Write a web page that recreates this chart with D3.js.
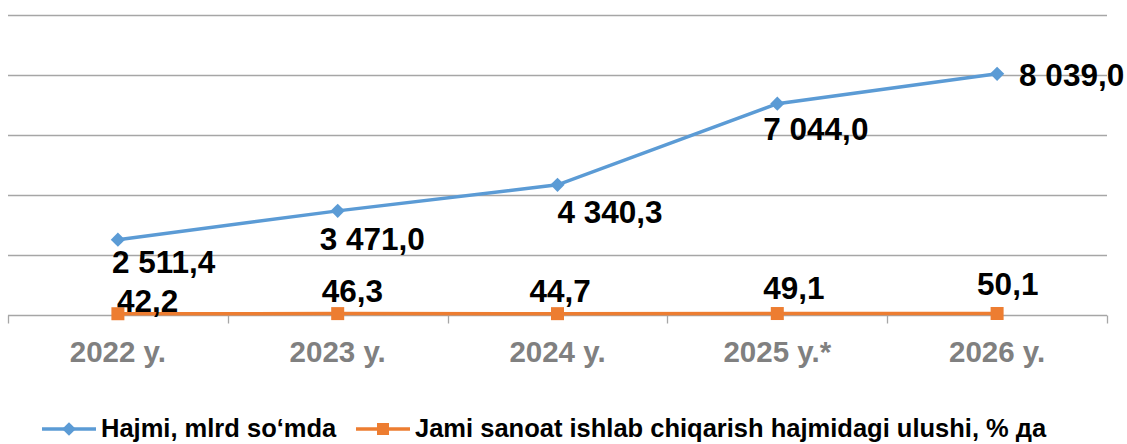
<!DOCTYPE html>
<html>
<head>
<meta charset="utf-8">
<script src="https://cdnjs.cloudflare.com/ajax/libs/d3/7.8.5/d3.min.js"></script>
<style>
  body { margin: 0; background: #fff; }
  svg text { font-family: Arial, "Liberation Sans", sans-serif; font-weight: bold; }
</style>
</head>
<body>
<div id="chart"></div>
<script>
var years = ["2022 y.", "2023 y.", "2024 y.", "2025 y.*", "2026 y."];
var hajmi = [2511.4, 3471.0, 4340.3, 7044.0, 8039.0];
var ulushi = [42.2, 46.3, 44.7, 49.1, 50.1];
var seriesNames = ["Hajmi, mlrd so\u2018mda", "Jami sanoat ishlab chiqarish hajmidagi ulushi, % \u0434\u0430"];
var yTicks = [2000, 4000, 6000, 8000, 10000];

// label placement (offset from point, text left edge / baseline)
var hajmiLabelOff = [[-6, 33], [-18, 39], [0, 38], [-14, 36], [22, 12]];
var ulushiLabelOff = [[-1, -2], [-16, -12], [-28, -12], [-14, -15], [-20, -18]];

var width = 1127, height = 444;
var fmt = function(v) {
  var s = v.toFixed(1).replace(".", ",");
  var parts = s.split(",");
  parts[0] = parts[0].replace(/\B(?=(\d{3})+(?!\d))/g, " ");
  return parts.join(",");
};

var svg = d3.select("#chart").append("svg")
  .attr("width", width)
  .attr("height", height);

var x = d3.scaleBand().domain(years).range([8, 1107]);
var y = d3.scaleLinear().domain([0, 10000]).range([315, 15]);
var cx = function(i) { return x(years[i]) + x.bandwidth() / 2; };

// gridlines
svg.append("g").selectAll("line")
  .data(yTicks)
  .enter().append("line")
  .attr("x1", 8).attr("x2", 1107)
  .attr("y1", function(d) { return Math.round(y(d)) + 0.5; })
  .attr("y2", function(d) { return Math.round(y(d)) + 0.5; })
  .attr("stroke", "#a6a6a6")
  .attr("stroke-width", 1.3);

// x axis
var xAxis = d3.axisBottom(x).tickSize(0).tickFormat("");
var gx = svg.append("g").attr("transform", "translate(0," + (Math.round(y(0)) + 0.5) + ")").call(xAxis);
gx.select(".domain").remove();
gx.append("line").attr("x1", 8).attr("x2", 1107).attr("stroke", "#a6a6a6").attr("stroke-width", 1.3);
gx.selectAll(".bnd")
  .data(d3.range(years.length + 1))
  .enter().append("line")
  .attr("x1", function(i) { return Math.round(8 + i * x.bandwidth()) + 0.5; })
  .attr("x2", function(i) { return Math.round(8 + i * x.bandwidth()) + 0.5; })
  .attr("y1", 0).attr("y2", 8)
  .attr("stroke", "#a6a6a6").attr("stroke-width", 1.3);

svg.append("g").selectAll("text")
  .data(years)
  .enter().append("text")
  .attr("x", function(d) { return x(d) + x.bandwidth() / 2; })
  .attr("y", 362)
  .attr("text-anchor", "middle")
  .attr("fill", "#808080")
  .style("font-size", "29.5px")
  .text(function(d) { return d; });

var line = d3.line()
  .x(function(d, i) { return cx(i); })
  .y(function(d) { return y(d); });

// orange series
svg.append("path").datum(ulushi)
  .attr("d", line)
  .attr("fill", "none")
  .attr("stroke", "#ED7D31")
  .attr("stroke-width", 3.5);
svg.append("g").selectAll("rect")
  .data(ulushi)
  .enter().append("rect")
  .attr("x", function(d, i) { return cx(i) - 6.5; })
  .attr("y", function(d) { return y(d) - 6.5; })
  .attr("width", 13).attr("height", 13)
  .attr("fill", "#ED7D31");

// blue series
svg.append("path").datum(hajmi)
  .attr("d", line)
  .attr("fill", "none")
  .attr("stroke", "#5B9BD5")
  .attr("stroke-width", 3.5);
var diamond = d3.symbol().type(d3.symbolDiamond2).size(130);
svg.append("g").selectAll("path")
  .data(hajmi)
  .enter().append("path")
  .attr("d", diamond)
  .attr("transform", function(d, i) { return "translate(" + cx(i) + "," + y(d) + ")"; })
  .attr("fill", "#5B9BD5");

// data labels
svg.append("g").selectAll("text")
  .data(hajmi)
  .enter().append("text")
  .attr("x", function(d, i) { return cx(i) + hajmiLabelOff[i][0]; })
  .attr("y", function(d, i) { return y(d) + hajmiLabelOff[i][1]; })
  .style("font-size", "31.5px")
  .attr("fill", "#000")
  .text(function(d) { return fmt(d); });

svg.append("g").selectAll("text")
  .data(ulushi)
  .enter().append("text")
  .attr("x", function(d, i) { return cx(i) + ulushiLabelOff[i][0]; })
  .attr("y", function(d, i) { return y(d) + ulushiLabelOff[i][1]; })
  .style("font-size", "31.5px")
  .attr("fill", "#000")
  .text(function(d) { return fmt(d); });

// legend
var legend = svg.append("g").attr("transform", "translate(0,437)");
var colors = ["#5B9BD5", "#ED7D31"];
var lx = [42, 356];
seriesNames.forEach(function(name, i) {
  var g = legend.append("g").attr("transform", "translate(" + lx[i] + ",0)");
  g.append("line").attr("x1", 0).attr("x2", 54).attr("y1", -8).attr("y2", -8)
    .attr("stroke", colors[i]).attr("stroke-width", 3.5);
  if (i === 0) {
    g.append("path").attr("d", d3.symbol().type(d3.symbolDiamond2).size(120))
      .attr("transform", "translate(27,-8)").attr("fill", colors[i]);
  } else {
    g.append("rect").attr("x", 21).attr("y", -14).attr("width", 12).attr("height", 12).attr("fill", colors[i]);
  }
  g.append("text").attr("x", 59).attr("y", 0)
    .style("font-size", "25.5px").attr("fill", "#000")
    .text(name);
});
</script>
</body>
</html>
